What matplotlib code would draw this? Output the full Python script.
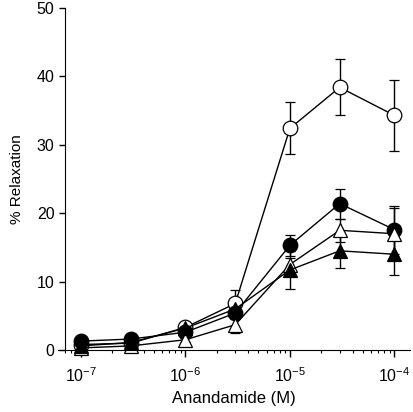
import numpy as np
import matplotlib
matplotlib.use("Agg")
import matplotlib.pyplot as plt

plt.rcParams["font.family"] = ["Liberation Sans", "DejaVu Sans"]
plt.rcParams["mathtext.fontset"] = "custom"
plt.rcParams["mathtext.rm"] = "Liberation Sans"
plt.rcParams["mathtext.it"] = "Liberation Sans"

# concentrations (M)
conc = [1e-7, 3e-7, 1e-6, 3e-6, 1e-5, 3e-5, 1e-4]

# % relaxation, mean and SEM per series
open_circ = [0.8, 1.0, 3.3, 6.8, 32.4, 38.4, 34.3]
open_circ_err = [0.3, 0.3, 0.5, 2.0, 3.8, 4.1, 5.2]

filled_circ = [1.3, 1.6, 2.6, 5.4, 15.3, 21.4, 17.6]
filled_circ_err = [0.3, 0.3, 0.4, 0.8, 1.5, 2.2, 3.5]

open_tri = [0.3, 0.6, 1.5, 3.7, 12.5, 17.5, 17.0]
open_tri_err = [0.2, 0.2, 0.3, 1.2, 1.0, 1.7, 3.8]

filled_tri = [0.6, 1.1, 3.2, 6.0, 11.7, 14.5, 14.0]
filled_tri_err = [0.2, 0.3, 0.4, 0.8, 2.8, 2.5, 3.0]

fig = plt.figure(figsize=(4.13, 4.12), dpi=100)
ax = fig.add_axes([58 / 413, 1 - 350 / 412, 352 / 413, 342 / 412])

series = [
    (open_circ, open_circ_err, "o", "white", 10.5),
    (filled_circ, filled_circ_err, "o", "black", 10.5),
    (open_tri, open_tri_err, "^", "white", 9.5),
    (filled_tri, filled_tri_err, "^", "black", 9.5),
]
for y, err, mk, fc, ms in series:
    ax.errorbar(conc, y, yerr=err, color="black", lw=1, marker=mk,
                markerfacecolor=fc, markeredgecolor="black", markersize=ms,
                markeredgewidth=0.9, capsize=3.5, elinewidth=1, capthick=1,
                clip_on=False)

ax.set_xscale("log")
ax.set_xlim(10 ** -7.22, 10 ** -3.85)
ax.set_ylim(0, 50)
ax.set_yticks([0, 10, 20, 30, 40, 50])
ax.set_xticks([1e-7, 1e-6, 1e-5, 1e-4])
ax.set_xticklabels(["10$^{-7}$", "10$^{-6}$", "10$^{-5}$", "10$^{-4}$"])

ax.spines["top"].set_visible(False)
ax.spines["right"].set_visible(False)
ax.spines["left"].set_position(("axes", 7 / 352))
ax.tick_params(axis="both", which="major", labelsize=11.5, direction="out",
               length=5, width=1)
ax.tick_params(axis="x", which="minor", direction="out", length=2.5, width=0.8)
ax.tick_params(axis="y", which="major", length=4)
ax.tick_params(axis="x", which="major", pad=7)

ax.set_xlabel("Anandamide (M)", fontsize=12, labelpad=4)
ax.set_ylabel("% Relaxation", fontsize=11, labelpad=9)

fig.savefig("out.png", dpi=100)
